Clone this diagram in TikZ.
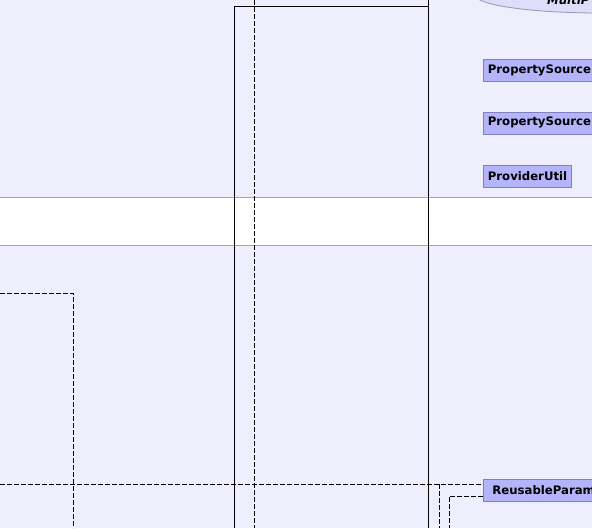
\documentclass[tikz,border=0pt]{standalone}
\usepackage{fontspec}
\setmainfont{DejaVu Sans}
\definecolor{bgc}{RGB}{238,238,252}
\definecolor{boxfill}{RGB}{180,180,250}
\definecolor{boxdraw}{RGB}{128,128,190}
\definecolor{bandline}{RGB}{165,165,175}
\definecolor{ellfill}{RGB}{222,222,250}
\definecolor{elldraw}{RGB}{150,150,175}
\tikzset{
  cls/.style={draw=boxdraw, fill=boxfill, line width=0.8pt, anchor=north west,
    minimum height=22pt, inner xsep=4.5pt, inner ysep=0pt,
    font=\bfseries\fontsize{11.7}{12}\selectfont},
  clswide/.style={cls, text width=150pt, align=left},
  dep/.style={black, line width=0.9pt, dash pattern=on 5pt off 2pt},
  pkg/.style={black, line width=0.9pt},
}
\begin{document}
\begin{tikzpicture}[x=1pt,y=-1pt]
\useasboundingbox (0,0) rectangle (592,528);
\clip (0,0) rectangle (592,528);
\fill[bgc] (0,0) rectangle (592,528);
% white band
\fill[white] (0,197) rectangle (592,245);
\draw[bandline, line width=0.8pt] (0,197) -- (592,197);
\draw[bandline, line width=0.8pt] (0,245) -- (592,245);
% ellipse usecase
\draw[elldraw, fill=ellfill, line width=0.8pt] (600,-5) ellipse [x radius=125, y radius=18];
\node[anchor=base west, inner sep=0pt, font=\bfseries\itshape\fontsize{11.7}{12}\selectfont] (mp) at (547,4) {MultiP};
% package frame
\coordinate (fa) at (234,528);
\coordinate (fb) at (234,6);
\coordinate (fc) at (428,6);
\coordinate (ft) at (428,0);
\coordinate (fd) at (428,528);
\draw[pkg] (fa) -- (fb) -- (fc);
\draw[pkg] (ft) -- (fd);
% dashed lines
\coordinate (d1t) at (254,0);
\coordinate (d1b) at (254,528);
\draw[dep] (d1t) -- (d1b);
\coordinate (d2a) at (0,293);
\coordinate (d2b) at (73,293);
\coordinate (d2c) at (73,528);
\draw[dep] (d2a) -- (d2b) -- (d2c);
% class boxes
\node[clswide] (ps1) at (483,59) {PropertySource};
\node[clswide] (ps2) at (483,111.5) {PropertySource};
\node[cls] (pu) at (483,165) {ProviderUtil};
\node[clswide, inner xsep=0pt, text width=170pt, align=left] (rp) at (483,479) {\hspace{9pt}ReusableParam};
% connectors to ReusableParam
\coordinate (l0) at (0,484);
\coordinate (l1) at (439,484);
\coordinate (l1b) at (439,528);
\coordinate (l2) at (449,496);
\coordinate (l2b) at (449,528);
\draw[dep] (l0) -- (rp.west |- l0);
\draw[dep] (l1) -- (l1b);
\draw[dep] (rp.west |- l2) -- (l2) -- (l2b);
\end{tikzpicture}
\end{document}
